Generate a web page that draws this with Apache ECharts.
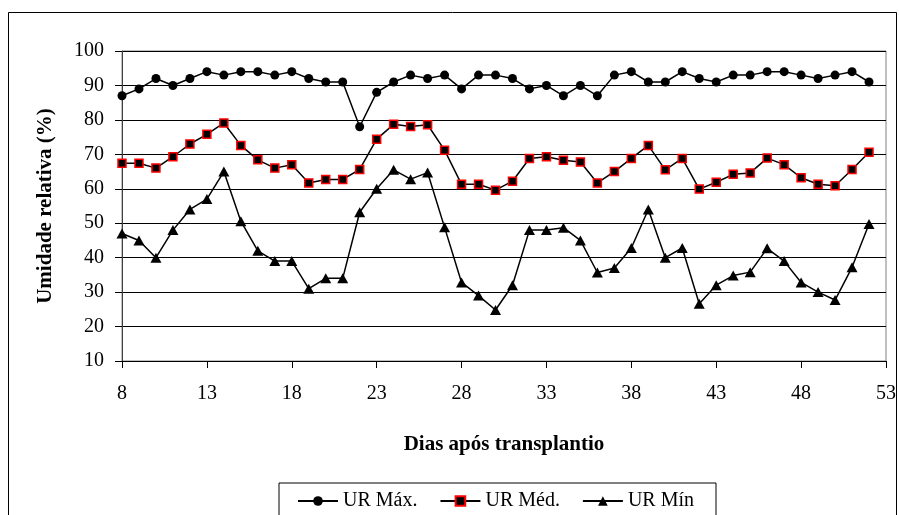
<!DOCTYPE html>
<html>
<head>
<meta charset="utf-8">
<script src="https://cdn.jsdelivr.net/npm/echarts@6/dist/echarts.min.js"></script>
<style>
html,body{margin:0;padding:0;background:#fff;}
#chart{width:899px;height:515px;}
</style>
</head>
<body>
<div id="chart"></div>
<script>
var days = [8,9,10,11,12,13,14,15,16,17,18,19,20,21,22,23,24,25,26,27,28,29,30,31,32,33,34,35,36,37,38,39,40,41,42,43,44,45,46,47,48,49,50,51,52];
var urMax = [87,89,92,90,92,94,93,94,94,93,94,92,91,91,78,88,91,93,92,93,89,93,93,92,89,90,87,90,87,93,94,91,91,94,92,91,93,93,94,94,93,92,93,94,91];
var urMed = [67.4,67.4,66,69.3,73,75.8,79.1,72.6,68.4,66,67,61.7,62.7,62.7,65.6,74.4,78.7,78.1,78.6,71.2,61.3,61.3,59.6,62.2,68.8,69.3,68.3,67.8,61.7,65,68.8,72.6,65.5,68.8,59.9,61.9,64.2,64.6,68.9,67,63.2,61.3,60.9,65.6,70.6];
var urMin = [47,45,40,48,54,57,65,50.6,42,39,39,31,34,34,53.2,60,65.5,62.8,64.7,48.8,32.8,29,24.8,32,48,48,48.7,45,35.7,37,42.8,54,40,42.8,26.6,32,34.8,35.8,42.7,39,32.8,30,27.7,37.2,49.8];
var seriesNames = ['UR Máx.', 'UR Méd.', 'UR Mín'];
var xTitle = 'Dias após transplantio';
var yTitle = 'Umidade relativa (%)';

function pairs(vals){ return days.map(function(d,i){ return [d, vals[i]]; }); }

var serif = 'Liberation Serif';
var chart = echarts.init(document.getElementById('chart'), null, {renderer:'canvas'});
chart.setOption({
  animation: false,
  backgroundColor: '#fff',
  textStyle: {fontFamily: serif, color: '#000'},
  graphic: [{
    type: 'rect', silent: true,
    shape: {x: 8.5, y: 12.5, width: 888, height: 530},
    style: {fill: 'none', stroke: '#000', lineWidth: 1}
  }],
  grid: {left: 122, right: 13, top: 51, bottom: 154, show: true, borderColor: '#808080', borderWidth: 1, backgroundColor: 'transparent'},
  xAxis: {
    type: 'value', min: 8, max: 53, interval: 5,
    name: xTitle, nameLocation: 'middle', nameGap: 73,
    nameTextStyle: {fontFamily: serif, fontSize: 21, fontWeight: 'bold', color: '#000'},
    axisLine: {show: true, lineStyle: {color: '#000', width: 1}},
    axisTick: {show: true, length: 7, lineStyle: {color: '#000'}},
    axisLabel: {fontFamily: serif, fontSize: 20, color: '#000', margin: 23},
    splitLine: {show: false}
  },
  yAxis: {
    type: 'value', min: 10, max: 100, interval: 10,
    name: yTitle, nameLocation: 'middle', nameGap: 66,
    nameTextStyle: {fontFamily: serif, fontSize: 21, fontWeight: 'bold', color: '#000'},
    axisLine: {show: true, lineStyle: {color: '#404040', width: 1}},
    axisTick: {show: true, length: 7, lineStyle: {color: '#000'}},
    axisLabel: {fontFamily: serif, fontSize: 20, color: '#000', margin: 18},
    splitLine: {show: true, lineStyle: {color: '#000', width: 1}}
  },
  legend: {
    left: 279, top: 483,
    padding: [8, 22, 20, 18],
    itemGap: 22, itemWidth: 40, itemHeight: 12,
    borderColor: '#000', borderWidth: 1,
    textStyle: {fontFamily: serif, fontSize: 20, color: '#000'},
    data: [
      {name: seriesNames[0], textStyle: {width: 79}},
      {name: seriesNames[1], textStyle: {width: 82}},
      {name: seriesNames[2]}
    ]
  },
  series: [
    {name: seriesNames[0], type: 'line', data: pairs(urMax), symbol: 'circle', symbolSize: 9,
     itemStyle: {color: '#000'}, lineStyle: {color: '#000', width: 1.5}},
    {name: seriesNames[1], type: 'line', data: pairs(urMed), symbol: 'rect', symbolSize: 8,
     itemStyle: {color: '#000', borderColor: '#ff0000', borderWidth: 1.5}, lineStyle: {color: '#000', width: 1.5}},
    {name: seriesNames[2], type: 'line', data: pairs(urMin), symbol: 'triangle', symbolSize: [11, 10],
     itemStyle: {color: '#000'}, lineStyle: {color: '#000', width: 1.5}}
  ]
});
</script>
</body>
</html>
